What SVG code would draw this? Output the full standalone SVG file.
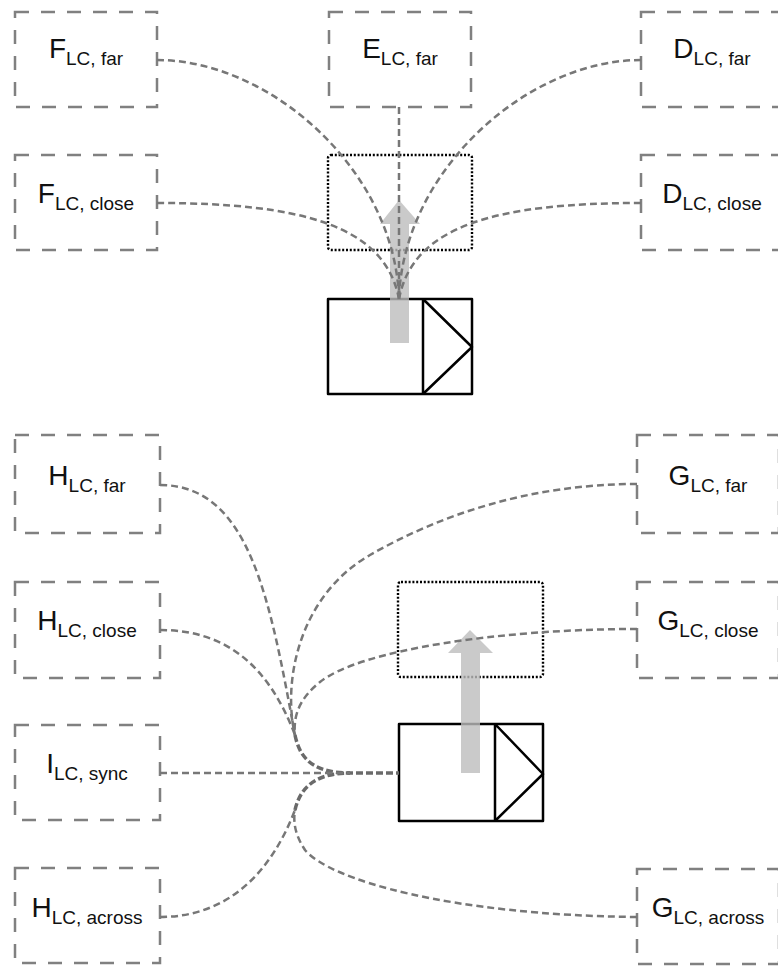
<svg xmlns="http://www.w3.org/2000/svg" width="778" height="967" viewBox="0 0 778 967">
  <style>
    .box { fill: none; stroke: #808080; stroke-width: 2.5; stroke-dasharray: 14 12; }
    .zone { fill: none; stroke: #000; stroke-width: 2.4; stroke-dasharray: 2 1.8; }
    .veh { fill: #fff; stroke: #000; stroke-width: 2.5; stroke-linejoin: round; }
    .arrow { fill: #bdbdbd; opacity: 0.8; }
    .link { fill: none; stroke: #777; stroke-width: 2.5; stroke-dasharray: 7 4; }
    .trunk { fill: none; stroke: #6a6a6a; stroke-width: 3.5; stroke-dasharray: 7 3; }
    .lbl { font-family: "Liberation Sans", Arial, sans-serif; font-size: 28px; fill: #111; text-anchor: middle; }
    .sub { font-size: 19px; }
  </style>

  <rect width="778" height="967" fill="#fff"/>

  <!-- upper scene: ego vehicle heading up -->
  <g id="zone-top"><rect class="zone" x="328" y="155" width="144" height="95" rx="3"/></g>
  <g id="vehicle-top">
    <rect class="veh" x="328" y="299" width="144" height="95"/>
    <path class="veh" d="M423,299 V394 M423,299 L472,347 L423,394"/>
  </g>
  <g id="heading-top"><path class="arrow" d="M390,343 V224 H380 L399,200 L420,224 H409 V343 Z"/></g>

  <g id="F-far"><rect class="box" x="15" y="12" width="142" height="95"/>
    <text class="lbl" x="86" y="58">F<tspan class="sub" dy="7">LC, far</tspan></text></g>
  <g id="F-close"><rect class="box" x="15" y="155" width="142" height="95"/>
    <text class="lbl" x="86" y="203">F<tspan class="sub" dy="7">LC, close</tspan></text></g>
  <g id="E-far"><rect class="box" x="329" y="12" width="142" height="95"/>
    <text class="lbl" x="400" y="58">E<tspan class="sub" dy="7">LC, far</tspan></text></g>
  <g id="D-far"><rect class="box" x="641" y="12" width="142" height="95"/>
    <text class="lbl" x="712" y="58">D<tspan class="sub" dy="7">LC, far</tspan></text></g>
  <g id="D-close"><rect class="box" x="641" y="155" width="142" height="95"/>
    <text class="lbl" x="712" y="203">D<tspan class="sub" dy="7">LC, close</tspan></text></g>

  <!-- lower scene: ego vehicle heading up, offset to the right -->
  <g id="zone-bottom"><rect class="zone" x="398" y="582" width="145" height="95" rx="3"/></g>
  <g id="vehicle-bottom">
    <rect class="veh" x="399" y="724" width="144" height="97"/>
    <path class="veh" d="M495,724 V821 M495,724 L543,774 L495,821"/>
  </g>
  <g id="heading-bottom"><path class="arrow" d="M461,773 V653 H448 L470,630 L493,653 H480 V773 Z"/></g>

  <g id="H-far"><rect class="box" x="15" y="435" width="145" height="98"/>
    <text class="lbl" x="87" y="485">H<tspan class="sub" dy="7">LC, far</tspan></text></g>
  <g id="H-close"><rect class="box" x="15" y="582" width="145" height="96"/>
    <text class="lbl" x="87" y="630">H<tspan class="sub" dy="7">LC, close</tspan></text></g>
  <g id="I-sync"><rect class="box" x="15" y="725" width="145" height="95"/>
    <text class="lbl" x="87" y="773">I<tspan class="sub" dy="7">LC, sync</tspan></text></g>
  <g id="H-across"><rect class="box" x="15" y="868" width="145" height="95"/>
    <text class="lbl" x="87" y="917">H<tspan class="sub" dy="7">LC, across</tspan></text></g>
  <g id="G-far"><rect class="box" x="637" y="435" width="142" height="98"/>
    <text class="lbl" x="708" y="485">G<tspan class="sub" dy="7">LC, far</tspan></text></g>
  <g id="G-close"><rect class="box" x="637" y="582" width="142" height="96"/>
    <text class="lbl" x="708" y="630">G<tspan class="sub" dy="7">LC, close</tspan></text></g>
  <g id="G-across"><rect class="box" x="637" y="869" width="142" height="95"/>
    <text class="lbl" x="708" y="917">G<tspan class="sub" dy="7">LC, across</tspan></text></g>

  <g id="connectors">
    <!-- upper scene -->
    <path class="link" d="M157,60 C270,60 395,170 399,299"/>
    <path class="link" d="M157,203 C300,203 385,225 399,299"/>
    <path class="link" d="M399,107 V299"/>
    <path class="link" d="M641,60 C528,60 403,170 399,299"/>
    <path class="link" d="M641,203 C498,203 413,225 399,299"/>
    <!-- lower scene, branches above the vehicle line -->
    <path class="link" d="M160,485 C250,485 270,600 295,735"/>
    <path class="link" d="M160,630 C230,630 270,670 295,735"/>
    <path class="link" d="M637,484 C530,484 440,515 370,555 C300,595 282,680 295,735"/>
    <path class="link" d="M637,629 C500,629 360,650 320,682 C300,698 293,715 295,735"/>
    <!-- lower scene, branches below the vehicle line -->
    <path class="link" d="M160,917 C230,917 272,870 295,810"/>
    <path class="link" d="M637,917 C450,915 330,880 305,850 C295,835 293,822 295,810"/>
    <!-- shared trunks into the vehicle -->
    <path class="trunk" d="M295,735 C300,760 315,773 350,773 L399,773"/>
    <path class="trunk" d="M295,810 C300,788 315,773 350,773"/>
    <path class="link" d="M160,773 H350"/>
  </g>
</svg>
